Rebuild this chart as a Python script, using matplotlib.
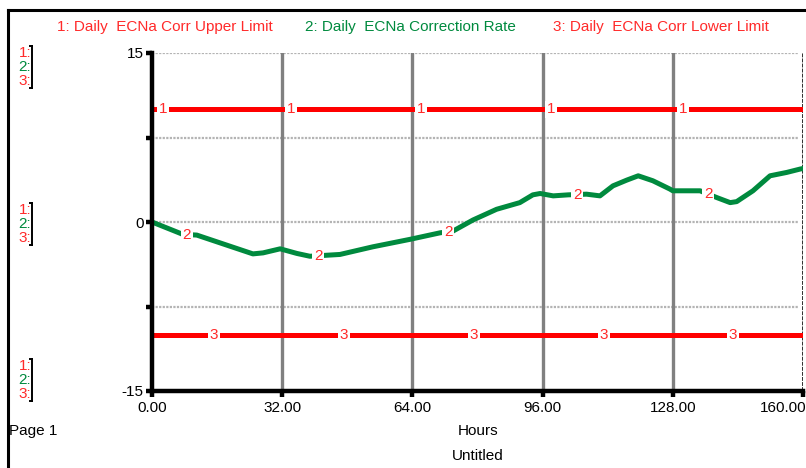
import numpy as np
import matplotlib
matplotlib.use("Agg")
import matplotlib.pyplot as plt
from matplotlib.lines import Line2D
import matplotlib.transforms as mtransforms

plt.rcParams['font.family'] = ['Liberation Sans', 'DejaVu Sans']

# ---- data ----
hours = [0, 7.6, 11, 16.7, 24.8, 27.3, 31.5, 35.6, 38.8, 46.2, 54.3, 63.4, 70.8,
         74, 78.9, 84.7, 90.4, 93.6, 95.4, 98.6, 102.3, 106.8, 110.1, 113.3,
         116.7, 119.5, 123.1, 127.3, 128, 134.7, 138.8, 142.1, 143.7, 147.7,
         151.9, 156, 159.3, 160]
correction_rate = [0.0, -1.1, -1.16, -1.85, -2.83, -2.74, -2.38, -2.79, -3.04,
                   -2.88, -2.2, -1.54, -0.96, -0.8, 0.18, 1.13, 1.72, 2.41, 2.53,
                   2.32, 2.41, 2.47, 2.32, 3.21, 3.72, 4.1, 3.66, 2.92, 2.77,
                   2.77, 2.17, 1.72, 1.81, 2.77, 4.1, 4.4, 4.7, 4.75]
upper_limit = 10.0
lower_limit = -10.0

series_names = ["1: Daily  ECNa Corr Upper Limit",
                "2: Daily  ECNa Correction Rate",
                "3: Daily  ECNa Corr Lower Limit"]
x_ticks = [0, 32, 64, 96, 128, 160]
x_tick_labels = ["0.00", "32.00", "64.00", "96.00", "128.00", "160.00"]
y_ticks = [-15, -7.5, 0, 7.5, 15]
y_tick_labels = ["-15", "", "0", "", "15"]
label_hours_1 = [2.7, 34.2, 66.1, 98.1, 130.5]
label_hours_2 = [8.6, 40.8, 72.8, 104.5, 136.7]
label_hours_3 = [15.2, 47.2, 79.1, 111.1, 142.8]

RED = "#ff0000"
RED_TXT = "#ff2a2a"
GREEN = "#008a3e"
FS = 11

W, H = 806, 468
fig = plt.figure(figsize=(W / 100, H / 100), dpi=100)


def fx(px):
    return px / W


def fy(py):
    return 1 - py / H


# outer page frame
fig.add_artist(Line2D([fx(8), fx(8)], [fy(10), 0], color="black", lw=2.2))
fig.add_artist(Line2D([fx(8), 1], [fy(10), fy(10)], color="black", lw=2.2))

ax = fig.add_axes([fx(152), fy(391), fx(803) - fx(152), fy(53) - fy(391)])
ax.set_xlim(0, 160)
ax.set_ylim(-15, 15)

# grid
for v in [15, 7.5, 0, -7.5]:
    ax.axhline(v, xmax=0.992, color="#b4b4b4", lw=1.6, ls=(0, (1, 0.6)),
               zorder=1)
for v in [32, 64, 96, 128]:
    ax.axvline(v, color="#808080", lw=2.4, zorder=1)
ax.axvline(160, color="#303030", lw=1.4, ls=(0, (2, 0.6)), zorder=1)

# series
ax.plot([0, 160], [upper_limit, upper_limit], color=RED, lw=3.6,
        solid_capstyle="butt", zorder=3)
ax.plot([0, 160], [lower_limit, lower_limit], color=RED, lw=3.6,
        solid_capstyle="butt", zorder=3)
ax.plot(hours, correction_rate, color=GREEN, lw=3.6, zorder=3)

box = dict(facecolor="white", edgecolor="none", pad=1.2)
for t in label_hours_1:
    ax.text(t, upper_limit, "1", color=RED_TXT, fontsize=FS, ha="center",
            va="center", bbox=box, zorder=4)
for t in label_hours_2:
    ax.text(t, np.interp(t, hours, correction_rate), "2", color=RED_TXT,
            fontsize=FS, ha="center", va="center", bbox=box, zorder=4)
for t in label_hours_3:
    ax.text(t, lower_limit, "3", color=RED_TXT, fontsize=FS, ha="center",
            va="center", bbox=box, zorder=4)

# axes styling
for s in ["top", "right"]:
    ax.spines[s].set_visible(False)
for s in ["left", "bottom"]:
    ax.spines[s].set_linewidth(3.2)
    ax.spines[s].set_zorder(5)
ax.set_xticks(x_ticks)
ax.set_xticklabels(x_tick_labels)
ax.set_yticks(y_ticks)
ax.set_yticklabels(y_tick_labels)
ax.tick_params(axis="both", direction="out", length=4, width=3.2,
               labelsize=FS, pad=2)
ax.tick_params(axis="x", pad=3)
last = ax.get_xticklabels()[-1]
last.set_ha("right")
last.set_transform(last.get_transform() +
                   mtransforms.ScaledTranslation(3 / 100, 0, fig.dpi_scale_trans))

# header series names
name_cols = [RED_TXT, GREEN, RED_TXT]
name_x = [165, 410, 661]
for name, c, x in zip(series_names, name_cols, name_x):
    fig.text(fx(x), fy(27), name, color=c, fontsize=FS, ha="center",
             va="center")

# left scale keys
for top in [53, 210, 366]:
    for i, (lab, c) in enumerate(zip(["1:", "2:", "3:"], name_cols)):
        fig.text(fx(31), fy(top + 14 * i), lab, color=c, fontsize=FS,
                 ha="right", va="center")
    yb0, yb1 = fy(top - 7), fy(top + 35)
    fig.add_artist(Line2D([fx(32), fx(32)], [yb0, yb1], color="black", lw=1.4))
    fig.add_artist(Line2D([fx(29.5), fx(32)], [yb0, yb0], color="black", lw=1.4))
    fig.add_artist(Line2D([fx(29.5), fx(32)], [yb1, yb1], color="black", lw=1.4))

fig.text(fx(9), fy(431), "Page 1", fontsize=FS, ha="left", va="center")
fig.text(fx(478), fy(431), "Hours", fontsize=FS, ha="center", va="center")
fig.text(fx(478), fy(456), "Untitled", fontsize=FS, ha="center", va="center")

fig.savefig("out.png", dpi=100)
